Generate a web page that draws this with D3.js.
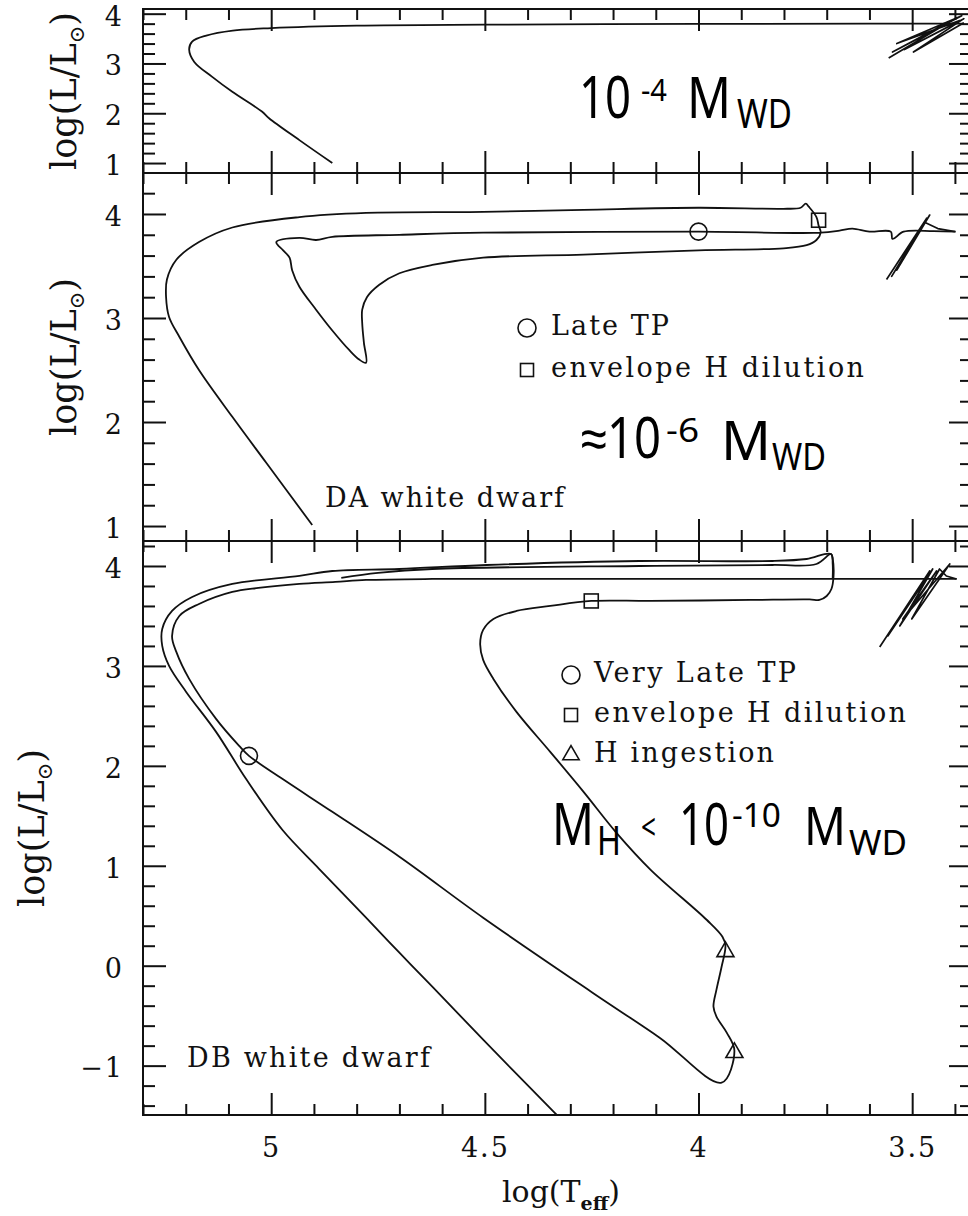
<!DOCTYPE html>
<html>
<head>
<meta charset="utf-8">
<script src="https://cdn.jsdelivr.net/npm/d3@7"></script>
<style>
  body { margin: 0; background: #fff; }
  svg { display: block; }
</style>
</head>
<body>
<svg id="chart" width="968" height="1216"></svg>
<script>
// ---------------- data ----------------
// x axis: log(Teff), hot stars on the left
const xDomain = [5.3, 3.36];
const xMajorTicks = [5, 4.5, 4, 3.5];
const xMinorTicks = [5.3, 5.2, 5.1, 4.9, 4.8, 4.7, 4.6, 4.4, 4.3, 4.2, 4.1, 3.9, 3.8, 3.7, 3.6, 3.4];

// luminosity ranges and ticks of the three panels
const lumDomainTop = [0.8, 4.094];
const lumDomainDA = [0.856, 4.394];
const lumDomainDB = [-1.494, 4.25];
const lumMajorTop = [1, 2, 3, 4];
const lumMajorDA = [1, 2, 3, 4];
const lumMajorDB = [-1, 0, 1, 2, 3, 4];

// track for an H envelope of 1e-4 M_WD: [log Teff, log L]
const topTrack = [
  [3.38, 3.80], [3.6, 3.80], [4.0, 3.795], [4.5, 3.78], [4.8, 3.76], [5.0, 3.71],
  [5.09, 3.66], [5.152, 3.56], [5.185, 3.44], [5.192, 3.28], [5.18, 3.03],
  [5.138, 2.73], [5.091, 2.43], [5.021, 2.03], [5.005, 1.90], [4.934, 1.46], [4.857, 1.0]
];
const topAgbLoops = [
  [3.555, 3.11], [3.396, 3.92], [3.546, 3.23], [3.384, 3.96], [3.536, 3.40],
  [3.389, 3.86], [3.518, 3.28], [3.379, 3.90], [3.497, 3.23], [3.379, 3.82]
];

// DA white dwarf track (late thermal pulse)
const daTrack = [
  [3.398, 3.83], [3.45, 3.835], [3.52, 3.83], [3.546, 3.76], [3.55, 3.83], [3.60, 3.83],
  [3.64, 3.86], [3.67, 3.84], [3.714, 3.82],
  [4.0, 3.83], [4.504, 3.82], [4.70, 3.80], [4.857, 3.78], [4.895, 3.75], [4.934, 3.77],
  [4.988, 3.73], [4.972, 3.65], [4.957, 3.58], [4.951, 3.46], [4.934, 3.30],
  [4.895, 3.08], [4.857, 2.88], [4.817, 2.69], [4.794, 2.60], [4.778, 2.57],
  [4.783, 2.76], [4.787, 2.95], [4.787, 3.08], [4.776, 3.20], [4.747, 3.32],
  [4.70, 3.43], [4.623, 3.51], [4.504, 3.58], [4.269, 3.61], [4.0, 3.65],
  [3.801, 3.67], [3.747, 3.70], [3.724, 3.75], [3.714, 3.82], [3.719, 3.89],
  [3.724, 3.97], [3.742, 4.07], [3.749, 4.10], [3.761, 4.06], [3.801, 4.05],
  [4.0, 4.06], [4.269, 4.04], [4.504, 4.02], [4.778, 4.01], [4.934, 3.97],
  [5.091, 3.87], [5.169, 3.73], [5.222, 3.56], [5.244, 3.37], [5.246, 3.20],
  [5.239, 3.01], [5.215, 2.82], [5.169, 2.50], [5.091, 2.05], [5.012, 1.61], [4.904, 1.01]
];
const daAgbLoops = [
  [3.560, 3.37], [3.466, 3.96], [3.548, 3.40], [3.459, 3.99], [3.536, 3.46],
  [3.471, 3.92], [3.44, 3.86], [3.40, 3.83]
];
const daLateTP = [[4.0, 3.83]];
const daDilution = [[3.719, 3.94]];

// DB white dwarf: first departure from the AGB down to the very late pulse,
// then the born-again excursion ending in a thin loop near the AGB
const dbTrack = [
  [3.396, 3.87], [3.50, 3.87], [3.60, 3.87], [3.686, 3.87], [3.90, 3.87], [4.138, 3.87],
  [4.40, 3.87], [4.623, 3.87], [4.778, 3.86], [4.85, 3.84], [4.934, 3.82], [5.03, 3.78],
  [5.091, 3.74], [5.169, 3.62], [5.215, 3.50], [5.232, 3.30], [5.222, 3.14],
  [5.192, 2.87], [5.129, 2.47], [5.075, 2.20], [5.052, 2.10],
  [4.974, 1.87], [4.857, 1.54], [4.70, 1.09], [4.504, 0.48], [4.248, -0.27],
  [4.091, -0.72], [3.946, -1.17],
  [3.916, -0.85], [3.934, -0.67], [3.958, -0.51], [3.965, -0.41], [3.958, -0.24],
  [3.946, -0.01], [3.937, 0.20], [3.944, 0.29], [3.981, 0.46], [4.112, 0.96],
  [4.192, 1.33], [4.269, 1.74], [4.347, 2.14], [4.426, 2.54], [4.480, 2.87],
  [4.504, 3.06], [4.511, 3.22], [4.504, 3.36], [4.480, 3.47], [4.426, 3.55],
  [4.347, 3.60], [4.251, 3.65], [4.112, 3.65], [3.878, 3.66], [3.740, 3.665],
  [3.717, 3.66], [3.700, 3.70], [3.689, 3.77], [3.684, 3.90], [3.686, 4.07], [3.690, 4.12],
  [3.724, 4.02], [3.827, 4.01], [4.138, 4.00], [4.623, 3.97], [4.75, 3.93], [4.836, 3.88]
];
// final return to the hot side and the DB cooling track
const dbFinalTrack = [
  [3.686, 3.88], [3.686, 4.02], [3.690, 4.12],
  [3.747, 4.07], [3.827, 4.05], [4.138, 4.05], [4.496, 4.01], [4.70, 3.97],
  [4.857, 3.95], [4.934, 3.90], [5.091, 3.82], [5.185, 3.69], [5.232, 3.55],
  [5.255, 3.37], [5.255, 3.20], [5.239, 3.00], [5.199, 2.74], [5.129, 2.34],
  [5.059, 1.87], [4.974, 1.36], [4.888, 0.97], [4.778, 0.48], [4.70, 0.13],
  [4.623, -0.21], [4.504, -0.74], [4.337, -1.47], [4.325, -1.52]
];
const dbAgbLoops = [
  [3.576, 3.19], [3.459, 3.95], [3.557, 3.30], [3.452, 3.97], [3.529, 3.40],
  [3.443, 3.95], [3.522, 3.47], [3.412, 4.02], [3.501, 3.47], [3.436, 3.97],
  [3.42, 3.90], [3.396, 3.87]
];
const dbVeryLateTP = [[5.052, 2.10]];
const dbDilution = [[4.251, 3.65]];
const dbIngestion = [[3.937, 0.14], [3.916, -0.87]];

// ---------------- layout ----------------
const X_LEFT = 143, X_RIGHT = 972;
const serif = "'DejaVu Serif', serif";
const hand = "'Comic Sans MS', 'Noto Sans', sans-serif";
const ink = "#111";

const panels = [
  { id: "top", top: 9, bottom: 173, domain: lumDomainTop, major: lumMajorTop,
    tracks: [topTrack], loops: [topAgbLoops], titleX: 76, showX: false },
  { id: "da", top: 173, bottom: 541, domain: lumDomainDA, major: lumMajorDA,
    tracks: [daTrack], loops: [daAgbLoops], titleX: 76, showX: false },
  { id: "db", top: 541, bottom: 1115, domain: lumDomainDB, major: lumMajorDB,
    tracks: [dbTrack, dbFinalTrack], loops: [dbAgbLoops], titleX: 44, showX: true }
];

const svg = d3.select("#chart");
const x = d3.scaleLinear().domain(xDomain).range([X_LEFT, X_RIGHT]);
const lumFmt = d => (d < 0 ? "\u2212" + Math.abs(d) : String(d));

function styleAxis(sel) {
  sel.select(".domain").remove();
  sel.selectAll(".tick line").attr("stroke", ink).attr("stroke-width", 2);
  sel.selectAll(".tick text")
    .attr("fill", ink)
    .style("font-family", serif)
    .style("font-size", "27px")
    .style("letter-spacing", "2px");
}

panels.forEach(p => {
  const y = d3.scaleLinear().domain(p.domain).range([p.bottom, p.top]);
  const minor = d3.range(-10, 25).map(i => i / 5)
    .filter(v => !Number.isInteger(v) && v > p.domain[0] + 0.01 && v < p.domain[1]);
  const g = svg.append("g");

  svg.append("clipPath").attr("id", "clip-" + p.id)
    .append("rect")
    .attr("x", X_LEFT).attr("y", p.top)
    .attr("width", X_RIGHT - X_LEFT).attr("height", p.bottom - p.top);

  // ticks on all four sides, pointing inwards
  g.append("g").attr("transform", `translate(${X_LEFT},0)`)
    .call(d3.axisLeft(y).tickValues(p.major).tickSize(-23).tickPadding(19).tickFormat(lumFmt))
    .call(styleAxis)
    .call(a => a.selectAll(".tick text").attr("dy", "0.42em"));
  g.append("g").attr("transform", `translate(${X_LEFT},0)`)
    .call(d3.axisLeft(y).tickValues(minor).tickSize(-12).tickFormat(""))
    .call(styleAxis);
  g.append("g").attr("transform", `translate(${X_RIGHT},0)`)
    .call(d3.axisRight(y).tickValues(p.major).tickSize(-23).tickFormat(""))
    .call(styleAxis);
  g.append("g").attr("transform", `translate(${X_RIGHT},0)`)
    .call(d3.axisRight(y).tickValues(minor).tickSize(-12).tickFormat(""))
    .call(styleAxis);
  g.append("g").attr("transform", `translate(0,${p.top})`)
    .call(d3.axisTop(x).tickValues(xMajorTicks).tickSize(-22).tickFormat(""))
    .call(styleAxis);
  g.append("g").attr("transform", `translate(0,${p.top})`)
    .call(d3.axisTop(x).tickValues(xMinorTicks).tickSize(-11).tickFormat(""))
    .call(styleAxis);
  g.append("g").attr("transform", `translate(0,${p.bottom})`)
    .call(d3.axisBottom(x).tickValues(xMajorTicks).tickSize(-22).tickPadding(23)
      .tickFormat(p.showX ? d3.format("") : ""))
    .call(styleAxis);
  g.append("g").attr("transform", `translate(0,${p.bottom})`)
    .call(d3.axisBottom(x).tickValues(xMinorTicks).tickSize(-11).tickFormat(""))
    .call(styleAxis);

  g.append("rect")
    .attr("x", X_LEFT).attr("y", p.top)
    .attr("width", X_RIGHT - X_LEFT).attr("height", p.bottom - p.top)
    .attr("fill", "none").attr("stroke", ink).attr("stroke-width", 2);

  // y axis title
  const t = g.append("text")
    .attr("transform", `translate(${p.titleX},${(p.top + p.bottom) / 2}) rotate(-90)`)
    .attr("text-anchor", "middle")
    .attr("fill", ink)
    .style("font-family", serif).style("font-size", "35px");
  t.append("tspan").text("log(L/L");
  t.append("tspan").attr("dy", 8).style("font-size", "21px").text("\u2299");
  t.append("tspan").attr("dy", -8).text(")");

  // evolutionary tracks
  const plot = g.append("g").attr("clip-path", `url(#clip-${p.id})`);
  const smooth = d3.line().x(d => x(d[0])).y(d => y(d[1])).curve(d3.curveCatmullRom.alpha(0.5));
  const straight = d3.line().x(d => x(d[0])).y(d => y(d[1]));
  p.tracks.forEach(tr => plot.append("path").attr("d", smooth(tr))
    .attr("fill", "none").attr("stroke", ink).attr("stroke-width", 1.8)
    .attr("stroke-linejoin", "round"));
  p.loops.forEach(tr => plot.append("path").attr("d", straight(tr))
    .attr("fill", "none").attr("stroke", ink).attr("stroke-width", 1.7)
    .attr("stroke-linejoin", "round"));

  p.y = y;
  p.g = g;
});

// ---------------- markers ----------------
function circles(g, pts, y) {
  g.selectAll(null).data(pts).join("circle")
    .attr("cx", d => x(d[0])).attr("cy", d => y(d[1])).attr("r", 8.5)
    .attr("fill", "none").attr("stroke", ink).attr("stroke-width", 1.6);
}
function squares(g, pts, y) {
  g.selectAll(null).data(pts).join("rect")
    .attr("x", d => x(d[0]) - 7).attr("y", d => y(d[1]) - 7)
    .attr("width", 14).attr("height", 14)
    .attr("fill", "none").attr("stroke", ink).attr("stroke-width", 1.6);
}
function triangles(g, pts, y) {
  g.selectAll(null).data(pts).join("path")
    .attr("d", d3.symbol().type(d3.symbolTriangle).size(125))
    .attr("transform", d => `translate(${x(d[0])},${y(d[1])})`)
    .attr("fill", "none").attr("stroke", ink).attr("stroke-width", 1.6);
}
const [pTop, pDA, pDB] = panels;
circles(pDA.g, daLateTP, pDA.y);
squares(pDA.g, daDilution, pDA.y);
circles(pDB.g, dbVeryLateTP, pDB.y);
squares(pDB.g, dbDilution, pDB.y);
triangles(pDB.g, dbIngestion, pDB.y);

// ---------------- legends and labels ----------------
function serifText(text, tx, ty, width) {
  svg.append("text").attr("x", tx).attr("y", ty)
    .attr("textLength", width).attr("lengthAdjust", "spacing")
    .attr("fill", ink)
    .style("font-family", serif).style("font-size", "27px")
    .text(text);
}
function legendSymbol(kind, cx, cy) {
  if (kind === "circle") {
    svg.append("circle").attr("cx", cx).attr("cy", cy).attr("r", 9)
      .attr("fill", "none").attr("stroke", ink).attr("stroke-width", 1.6);
  } else if (kind === "square") {
    svg.append("rect").attr("x", cx - 6.5).attr("y", cy - 6.5).attr("width", 13).attr("height", 13)
      .attr("fill", "none").attr("stroke", ink).attr("stroke-width", 1.6);
  } else {
    svg.append("path").attr("d", d3.symbol().type(d3.symbolTriangle).size(115))
      .attr("transform", `translate(${cx},${cy})`)
      .attr("fill", "none").attr("stroke", ink).attr("stroke-width", 1.6);
  }
}

const daLegend = [
  { kind: "circle", label: "Late TP", width: 118 },
  { kind: "square", label: "envelope H dilution", width: 313 }
];
daLegend.forEach((d, i) => {
  legendSymbol(d.kind, 527, 328 + i * 42);
  serifText(d.label, 551, 335 + i * 42, d.width);
});

const dbLegend = [
  { kind: "circle", label: "Very Late TP", width: 202 },
  { kind: "square", label: "envelope H dilution", width: 312 },
  { kind: "triangle", label: "H ingestion", width: 180 }
];
dbLegend.forEach((d, i) => {
  legendSymbol(d.kind, 571, 675 + i * 40);
  serifText(d.label, 594, 682 + i * 40, d.width);
});

serifText("DA white dwarf", 325, 507, 239);
serifText("DB white dwarf", 187, 1067, 243);

// x axis title
const xt = svg.append("text").attr("x", 561).attr("y", 1202)
  .attr("text-anchor", "middle").attr("fill", ink)
  .style("font-family", serif).style("font-size", "30px");
xt.append("tspan").text("log(T");
xt.append("tspan").attr("dy", 8).style("font-size", "19px").style("font-weight", "bold").text("eff");
xt.append("tspan").attr("dy", -8).text(")");

// hydrogen mass annotations: each piece is set in a compact size and
// stretched vertically (k) to the tall, narrow hand-lettered look
const massNotes = [
  { t: "10", x: 579, y: 118, s: 44, w: 52, k: 1.31 },
  { t: "-4", x: 641, y: 101, s: 28, w: 26, k: 1.1 },
  { t: "M", x: 687, y: 118, s: 47, w: 44, k: 1.22 },
  { t: "WD", x: 737, y: 128, s: 33, w: 55, k: 1.19 },

  { t: "\u224810", x: 581, y: 458, s: 45, w: 80, k: 1.25 },
  { t: "-6", x: 666, y: 442, s: 32, w: 33, k: 1.05 },
  { t: "M", x: 721, y: 460, s: 54, w: 50, k: 1.0 },
  { t: "WD", x: 772, y: 470, s: 32, w: 54, k: 1.18 },

  { t: "M", x: 552, y: 845, s: 45, w: 42, k: 1.31 },
  { t: "H", x: 597, y: 855, s: 31, w: 24, k: 1.27 },
  { t: "<", x: 641, y: 840, s: 25, w: 15, k: 1.45 },
  { t: "10", x: 679, y: 845, s: 42, w: 50, k: 1.4 },
  { t: "-10", x: 732, y: 827, s: 32, w: 49, k: 1.05 },
  { t: "M", x: 804, y: 845, s: 45, w: 42, k: 1.18 },
  { t: "WD", x: 849, y: 855, s: 34, w: 58, k: 1.03 }
];
massNotes.forEach(n => {
  svg.append("text")
    .attr("transform", `translate(${n.x},${n.y}) scale(1,${n.k})`)
    .attr("textLength", n.w).attr("lengthAdjust", "spacingAndGlyphs")
    .attr("fill", "#000")
    .style("font-family", hand).style("font-size", n.s + "px")
    .text(n.t);
});
</script>
</body>
</html>
